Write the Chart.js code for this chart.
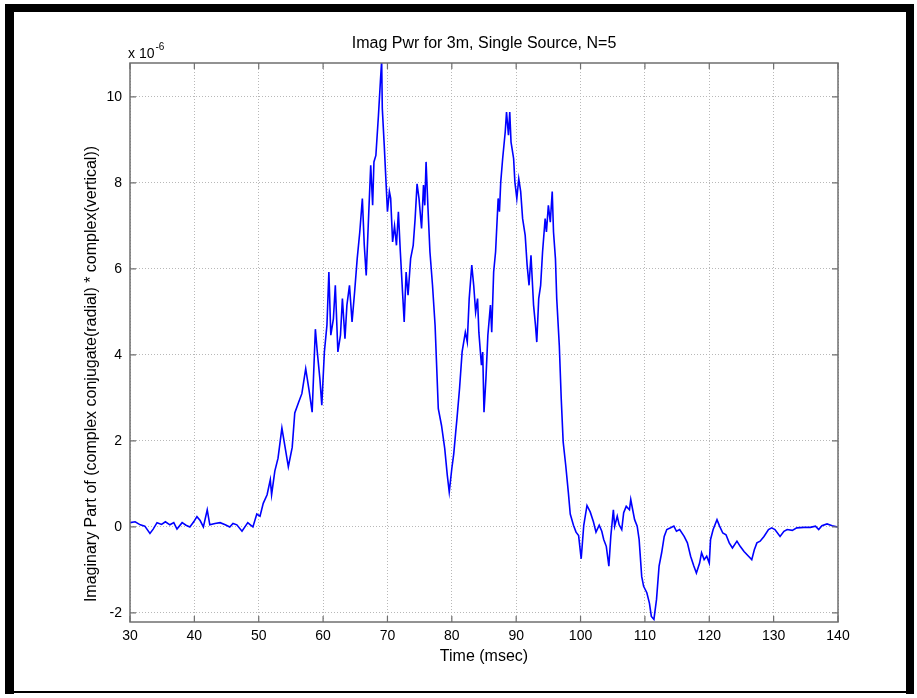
<!DOCTYPE html>
<html>
<head>
<meta charset="utf-8">
<script src="https://cdn.jsdelivr.net/npm/chart.js@4.4.1/dist/chart.umd.min.js"></script>
<style>
  html, body { margin: 0; padding: 0; background: #ffffff; }
  #wrap { width: 917px; height: 698px; position: relative; }
</style>
</head>
<body>
<div id="wrap"><canvas id="c" width="917" height="698"></canvas></div>
<script>
// ---- data (values in units of 1e-6) ----
const chartTitle = "Imag Pwr for 3m, Single Source, N=5";
const xLabel = "Time (msec)";
const yLabel = "Imaginary Part of (complex conjugate(radial) * complex(vertical))";
const yExponent = "-6";
const xTicks = [30, 40, 50, 60, 70, 80, 90, 100, 110, 120, 130, 140];
const yTicks = [-2, 0, 2, 4, 6, 8, 10];

const times = [
  30.0, 30.8, 31.6, 32.3, 33.1, 33.6, 34.2, 34.9, 35.5, 36.2, 36.8, 37.3, 38.1, 38.7, 39.3, 39.9,
  40.4, 40.9, 41.4, 42.0, 42.4, 43.2, 44.0, 44.8, 45.5, 46.0, 46.6, 47.4, 48.3, 48.7, 49.1, 49.7,
  50.2, 50.7, 51.3, 51.8, 52.0, 52.5, 53.0, 53.6, 54.1, 54.6, 55.2, 55.6, 56.2, 56.7, 57.3, 57.8,
  58.3, 58.8, 59.1, 59.5, 59.8, 60.2, 60.6, 60.9, 61.2, 61.6, 61.9, 62.3, 62.7, 63.0, 63.4, 63.7,
  64.1, 64.5, 64.9, 65.3, 65.7, 66.1, 66.4, 66.7, 67.1, 67.4, 67.7, 67.9, 68.2, 68.6, 68.9, 69.1,
  69.2, 69.5, 69.8, 70.0, 70.3, 70.5, 70.8, 71.1, 71.4, 71.7, 72.0, 72.4, 72.6, 72.9, 73.2, 73.6,
  74.0, 74.3, 74.6, 74.9, 75.3, 75.6, 75.8, 76.0, 76.3, 76.6, 77.0, 77.4, 77.6, 77.9, 78.4, 78.9,
  79.3, 79.6, 80.0, 80.3, 80.6, 80.8, 81.2, 81.6, 82.1, 82.4, 82.7, 83.1, 83.4, 83.7, 84.0, 84.2,
  84.6, 84.8, 85.0, 85.3, 85.6, 86.0, 86.2, 86.5, 86.8, 87.2, 87.4, 87.6, 87.9, 88.3, 88.5, 88.8,
  89.0, 89.2, 89.6, 89.8, 90.1, 90.4, 90.7, 91.0, 91.4, 91.7, 92.0, 92.3, 92.7, 93.0, 93.2, 93.5,
  93.8, 94.1, 94.5, 94.7, 95.0, 95.3, 95.6, 95.8, 96.1, 96.3, 96.7, 97.0, 97.3, 97.7, 98.1, 98.4,
  98.9, 99.3, 99.7, 100.1, 100.5, 101.0, 101.5, 102.0, 102.4, 102.9, 103.3, 103.6, 104.0, 104.4, 104.7, 105.1,
  105.3, 105.7, 106.0, 106.4, 106.7, 107.1, 107.6, 107.8, 108.1, 108.4, 108.8, 109.1, 109.5, 109.8, 110.3, 110.7,
  111.0, 111.4, 111.8, 112.2, 112.6, 113.0, 113.4, 114.0, 114.5, 114.9, 115.4, 116.1, 116.6, 117.1, 117.6, 118.0,
  118.5, 118.8, 119.2, 119.6, 120.0, 120.2, 120.6, 121.2, 121.6, 122.1, 122.6, 123.1, 123.6, 124.3, 124.8, 125.4,
  126.1, 126.6, 127.0, 127.4, 127.9, 128.5, 129.2, 129.7, 130.2, 131.0, 131.6, 132.1, 132.9, 133.6, 134.7, 135.7,
  136.5, 137.0, 137.5, 138.3, 139.1, 140.0
];

const values = [
  0.10, 0.12, 0.05, 0.02, -0.15, -0.05, 0.10, 0.06, 0.12, 0.05, 0.10, -0.05, 0.10, 0.04, 0.00, 0.12,
  0.24, 0.15, 0.00, 0.40, 0.05, 0.08, 0.10, 0.05, 0.00, 0.08, 0.05, -0.10, 0.10, 0.05, 0.00, 0.30,
  0.25, 0.55, 0.75, 1.10, 0.75, 1.30, 1.60, 2.30, 1.85, 1.40, 1.85, 2.65, 2.90, 3.10, 3.68, 3.20,
  2.67, 4.60, 4.07, 3.45, 2.83, 4.07, 4.70, 5.93, 4.46, 4.84, 5.62, 4.07, 4.46, 5.31, 4.38, 5.16,
  5.62, 4.77, 5.47, 6.24, 6.86, 7.64, 6.55, 5.85, 7.33, 8.41, 7.48, 8.49, 8.64, 9.57, 10.35, 10.85,
  9.73, 8.88, 7.95, 7.33, 7.80, 7.64, 6.63, 7.00, 6.55, 7.33, 6.40, 5.31, 4.77, 5.93, 5.39, 6.24,
  6.55, 7.17, 7.98, 7.64, 6.94, 7.95, 7.48, 8.49, 7.40, 6.40, 5.62, 4.69, 3.91, 2.75, 2.36, 1.82,
  1.20, 0.81, 1.36, 1.70, 2.20, 2.52, 3.22, 4.07, 4.53, 4.30, 5.31, 6.09, 5.62, 5.00, 5.31, 4.53,
  3.76, 4.07, 2.67, 3.45, 4.46, 5.16, 4.53, 5.93, 6.40, 7.64, 7.33, 8.02, 8.57, 9.19, 9.65, 9.11,
  9.65, 8.95, 8.57, 8.02, 7.64, 8.10, 7.80, 7.17, 6.78, 6.09, 5.62, 6.32, 5.16, 4.69, 4.30, 5.31,
  5.62, 6.40, 7.17, 6.86, 7.48, 7.09, 7.80, 6.86, 6.24, 5.31, 4.22, 2.98, 1.98, 1.43, 0.81, 0.30,
  0.04, -0.12, -0.20, -0.74, 0.04, 0.50, 0.35, 0.12, -0.12, 0.04, -0.10, -0.29, -0.45, -0.91, -0.22, 0.40,
  0.02, 0.25, 0.05, -0.06, 0.33, 0.48, 0.40, 0.64, 0.40, 0.17, 0.02, -0.29, -1.15, -1.38, -1.53, -1.77,
  -2.08, -2.15, -1.69, -0.91, -0.60, -0.22, -0.06, -0.02, 0.02, -0.10, -0.06, -0.22, -0.37, -0.68, -0.91, -1.07,
  -0.84, -0.60, -0.76, -0.68, -0.84, -0.29, -0.06, 0.17, 0.02, -0.14, -0.18, -0.37, -0.49, -0.33, -0.45, -0.57,
  -0.68, -0.76, -0.53, -0.37, -0.33, -0.22, -0.06, -0.02, -0.06, -0.22, -0.10, -0.06, -0.08, -0.02, -0.01, -0.01,
  0.02, -0.06, 0.03, 0.07, 0.03, 0.00
];

const yMin = -2.21, yMax = 10.79;
const FONT = "'Liberation Sans', Arial, Helvetica, sans-serif";
const AXIS_COLOR = '#6f6f6f';

const points = times.map((t, i) => ({ x: t, y: values[i] }));

const framePlugin = {
  id: 'framePlugin',
  beforeDraw(chart) {
    const ctx = chart.ctx;
    ctx.save();
    ctx.fillStyle = '#ffffff';
    ctx.fillRect(0, 0, chart.width, chart.height);
    ctx.fillStyle = '#000000';
    ctx.fillRect(5, 4, 909, 8);     // top band
    ctx.fillRect(5, 4, 9, 690);     // left band
    ctx.fillRect(906, 4, 8, 690);   // right band
    ctx.fillRect(5, 691, 909, 2);   // bottom line
    ctx.restore();
  },
  afterDraw(chart) {
    const ctx = chart.ctx;
    const a = chart.chartArea;
    const xs = chart.scales.x, ys = chart.scales.y;
    ctx.save();
    ctx.strokeStyle = AXIS_COLOR;
    ctx.lineWidth = 1.5;
    ctx.strokeRect(a.left, a.top, a.right - a.left, a.bottom - a.top);
    ctx.lineWidth = 1.2;
    const tl = 6;
    ctx.beginPath();
    xTicks.forEach(v => {
      const px = xs.getPixelForValue(v);
      ctx.moveTo(px, a.bottom); ctx.lineTo(px, a.bottom - tl);
      ctx.moveTo(px, a.top); ctx.lineTo(px, a.top + tl);
    });
    yTicks.forEach(v => {
      const py = ys.getPixelForValue(v);
      ctx.moveTo(a.left, py); ctx.lineTo(a.left + tl, py);
      ctx.moveTo(a.right, py); ctx.lineTo(a.right - tl, py);
    });
    ctx.stroke();
    ctx.fillStyle = '#000000';
    // title
    ctx.font = '16px ' + FONT;
    ctx.textAlign = 'center';
    ctx.textBaseline = 'middle';
    ctx.fillText(chartTitle, (a.left + a.right) / 2, 44);
    // x axis label
    ctx.fillText(xLabel, (a.left + a.right) / 2, 657);
    // y axis label
    ctx.save();
    ctx.translate(92, 374);
    ctx.rotate(-Math.PI / 2);
    ctx.fillText(yLabel, 0, 0);
    ctx.restore();
    // exponent label
    ctx.textAlign = 'left';
    ctx.textBaseline = 'alphabetic';
    ctx.font = '14px ' + FONT;
    const base = 'x 10';
    ctx.fillText(base, a.left - 2, 58);
    const w = ctx.measureText(base).width;
    ctx.font = '10px ' + FONT;
    ctx.fillText(yExponent, a.left - 2 + w + 1, 50);
    ctx.restore();
  }
};

new Chart(document.getElementById('c'), {
  type: 'line',
  data: {
    datasets: [{
      data: points,
      borderColor: '#0000ff',
      borderWidth: 1.6,
      pointRadius: 0,
      tension: 0,
      fill: false
    }]
  },
  options: {
    responsive: false,
    devicePixelRatio: 1,
    animation: false,
    layout: { padding: { left: 84, right: 79, top: 63, bottom: 16 } },
    plugins: {
      legend: { display: false },
      title: { display: false },
      tooltip: { enabled: false }
    },
    scales: {
      x: {
        type: 'linear',
        min: 30, max: 140,
        afterBuildTicks(scale) { scale.ticks = xTicks.map(v => ({ value: v })); },
        afterFit(scale) { scale.height = 60; },
        grid: { color: '#b8b8b8', lineWidth: 1, drawTicks: false },
        border: { display: false, dash: [1, 2] },
        ticks: { color: '#000000', font: { size: 14, family: FONT }, padding: 6, maxRotation: 0, autoSkip: false },
        title: { display: false }
      },
      y: {
        type: 'linear',
        min: yMin, max: yMax,
        afterBuildTicks(scale) { scale.ticks = yTicks.map(v => ({ value: v })); },
        afterFit(scale) { scale.width = 46; },
        grid: { color: '#b8b8b8', lineWidth: 1, drawTicks: false },
        border: { display: false, dash: [1, 2] },
        ticks: { color: '#000000', font: { size: 14, family: FONT }, padding: 8, autoSkip: false },
        title: { display: false }
      }
    }
  },
  plugins: [framePlugin]
});
</script>
</body>
</html>
